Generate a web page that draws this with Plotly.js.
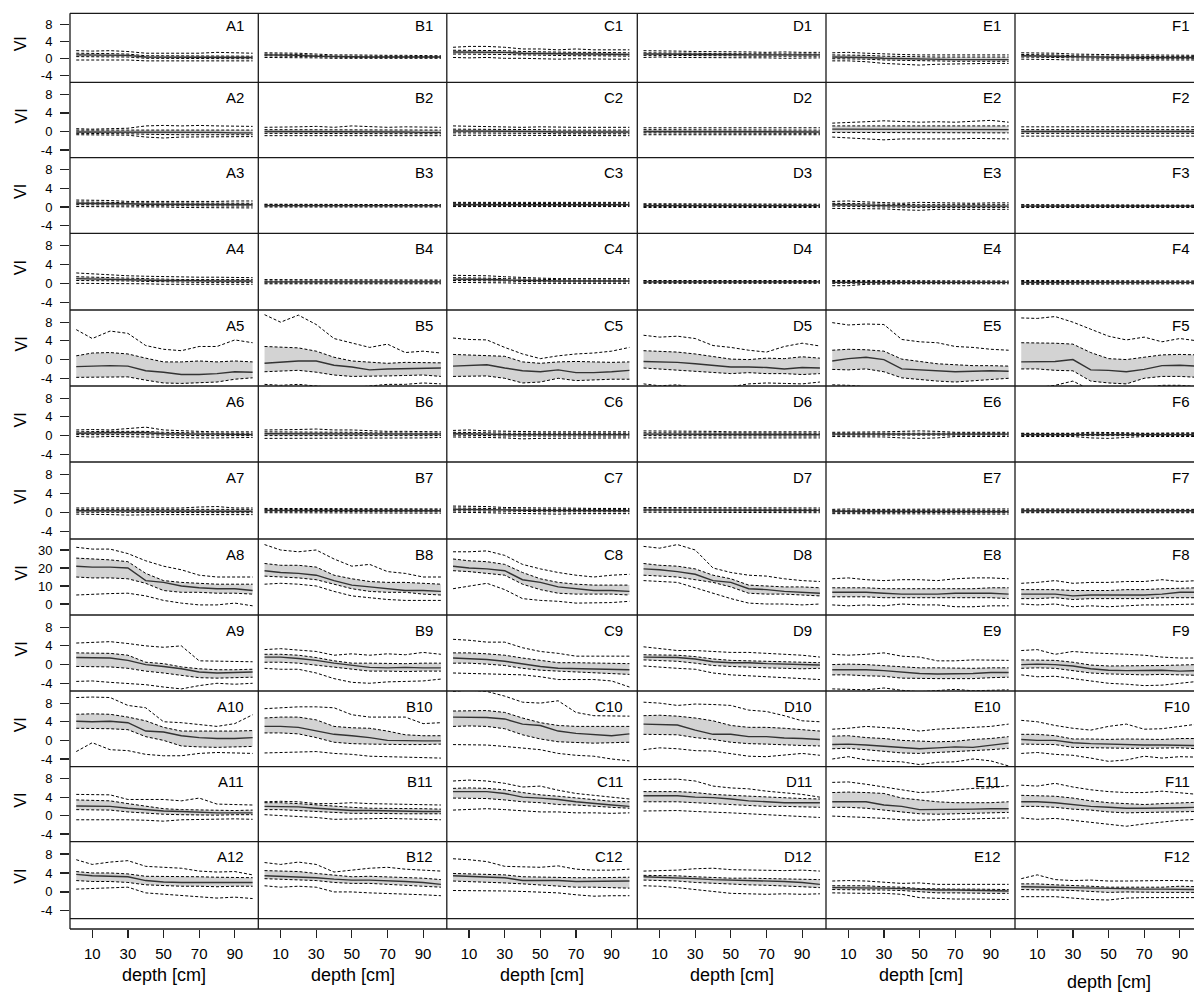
<!DOCTYPE html>
<html><head><meta charset="utf-8">
<script src="https://cdn.plot.ly/plotly-3.0.1.min.js"></script>
<style>html,body{margin:0;padding:0;background:#fff;}#chart{width:1194px;height:992px;}</style>
</head><body><div id="chart"></div>
<script>
// ---------------- DATA ----------------
var depth = [1,10,20,30,40,50,60,70,80,90,100];
var columns = ['A','B','C','D','E','F'];
var rowNumbers = [1,2,3,4,5,6,7,8,9,10,11,12];
var xTicks = [10,30,50,70,90];
var yTicksStd = [-4,0,4,8];
var yTicksRow8 = [0,10,20,30];
var xTitle = 'depth [cm]';
var yTitle = 'VI';

// Row 1
var A1_hi=[1.8,1.7,1.8,1.6,1.2,1.2,1.3,1.2,1.4,1.3,1.2], A1_q3=[1.2,1.2,1.1,1.0,0.6,0.6,0.6,0.6,0.6,0.5,0.5], A1_med=[0.8,0.8,0.8,0.7,0.3,0.3,0.3,0.3,0.3,0.3,0.2], A1_q1=[0.4,0.4,0.4,0.3,0.0,0.0,0.0,0.0,-0.1,-0.1,-0.1], A1_lo=[-0.4,-0.4,-0.5,-0.4,-0.6,-0.6,-0.6,-0.7,-0.6,-0.7,-0.6];
var B1_hi=[1.3,1.3,1.2,1.0,0.8,0.8,0.7,0.7,0.7,0.7,0.6], B1_q3=[1.0,1.0,0.9,0.7,0.5,0.5,0.5,0.5,0.4,0.4,0.4], B1_med=[0.8,0.8,0.7,0.5,0.4,0.4,0.3,0.3,0.3,0.3,0.3], B1_q1=[0.6,0.5,0.5,0.3,0.2,0.2,0.2,0.2,0.2,0.2,0.2], B1_lo=[0.2,0.2,0.2,0.1,0.0,0.0,0.0,0.0,0.0,0.0,0.0];
var C1_hi=[2.6,2.8,2.8,2.6,2.2,2.2,2.0,2.2,2.0,2.0,2.0], C1_q3=[1.9,1.9,1.9,1.8,1.6,1.5,1.5,1.4,1.4,1.3,1.3], C1_med=[1.5,1.5,1.5,1.4,1.2,1.1,1.1,1.0,1.0,0.9,0.9], C1_q1=[1.0,1.0,1.0,0.9,0.8,0.7,0.7,0.6,0.6,0.5,0.5], C1_lo=[0.2,0.1,0.2,0.0,0.0,-0.1,-0.2,-0.1,-0.2,-0.2,-0.2];
var D1_hi=[1.8,1.8,1.7,1.6,1.6,1.5,1.5,1.4,1.5,1.4,1.4], D1_q3=[1.3,1.3,1.2,1.2,1.1,1.1,1.0,1.0,1.0,1.0,1.0], D1_med=[1.0,1.0,1.0,0.9,0.9,0.9,0.8,0.8,0.8,0.8,0.8], D1_q1=[0.7,0.7,0.7,0.6,0.6,0.6,0.5,0.5,0.5,0.5,0.5], D1_lo=[0.2,0.3,0.2,0.2,0.1,0.1,0.1,0.1,0.0,0.1,0.1];
var E1_hi=[1.3,1.4,1.2,1.0,0.9,0.8,0.8,0.9,0.8,0.8,0.8], E1_q3=[0.8,0.8,0.7,0.5,0.4,0.3,0.3,0.3,0.3,0.3,0.3], E1_med=[0.3,0.3,0.2,0.0,-0.1,-0.2,-0.2,-0.3,-0.3,-0.3,-0.3], E1_q1=[-0.1,-0.1,-0.2,-0.4,-0.5,-0.6,-0.7,-0.7,-0.7,-0.7,-0.7], E1_lo=[-0.6,-0.6,-0.8,-1.2,-1.4,-1.6,-1.4,-1.3,-1.3,-1.2,-1.2];
var F1_hi=[1.3,1.3,1.2,1.0,0.9,0.8,0.8,0.8,0.8,0.7,0.7], F1_q3=[0.9,0.9,0.8,0.6,0.5,0.5,0.5,0.4,0.4,0.4,0.4], F1_med=[0.6,0.6,0.5,0.4,0.3,0.3,0.2,0.2,0.2,0.2,0.2], F1_q1=[0.3,0.3,0.2,0.1,0.0,0.0,0.0,-0.1,-0.1,-0.1,-0.1], F1_lo=[-0.2,-0.2,-0.3,-0.4,-0.4,-0.4,-0.4,-0.5,-0.4,-0.4,-0.4];
// Row 2
var A2_hi=[0.6,0.5,0.6,0.7,1.2,1.3,1.2,1.3,1.2,1.2,1.1], A2_q3=[0.3,0.3,0.3,0.3,0.4,0.4,0.4,0.3,0.3,0.3,0.3], A2_med=[-0.1,-0.1,-0.1,-0.1,-0.1,-0.2,-0.2,-0.2,-0.2,-0.3,-0.3], A2_q1=[-0.4,-0.4,-0.4,-0.5,-0.6,-0.7,-0.7,-0.7,-0.7,-0.7,-0.7], A2_lo=[-0.7,-0.7,-0.7,-0.8,-1.2,-1.4,-1.2,-1.2,-1.1,-1.1,-1.1];
var B2_hi=[0.9,0.9,1.0,1.1,0.9,1.2,1.0,0.9,1.0,0.9,0.9], B2_q3=[0.4,0.4,0.4,0.4,0.4,0.4,0.3,0.3,0.3,0.3,0.3], B2_med=[0.0,0.0,0.0,0.0,0.0,0.0,-0.1,-0.1,-0.1,-0.2,-0.2], B2_q1=[-0.4,-0.4,-0.4,-0.4,-0.4,-0.4,-0.5,-0.5,-0.5,-0.5,-0.5], B2_lo=[-0.9,-0.9,-0.8,-0.9,-0.9,-0.8,-0.9,-0.9,-0.9,-0.9,-0.9];
var C2_hi=[1.2,1.1,1.0,1.0,0.9,1.0,0.9,0.9,0.9,0.9,0.9], C2_q3=[0.5,0.5,0.4,0.4,0.4,0.4,0.3,0.3,0.3,0.3,0.3], C2_med=[0.1,0.1,0.0,0.0,0.0,0.0,-0.1,-0.1,-0.1,-0.1,-0.1], C2_q1=[-0.3,-0.3,-0.4,-0.4,-0.4,-0.4,-0.5,-0.5,-0.5,-0.5,-0.5], C2_lo=[-0.8,-0.8,-0.8,-0.8,-0.9,-0.9,-0.8,-0.9,-0.9,-0.9,-0.9];
var D2_hi=[0.8,0.8,0.8,0.7,0.8,0.7,0.8,0.7,0.8,0.8,0.8], D2_q3=[0.4,0.4,0.3,0.3,0.3,0.3,0.3,0.3,0.3,0.3,0.3], D2_med=[0.0,0.0,0.0,-0.1,-0.1,-0.1,-0.1,-0.1,-0.1,-0.1,-0.1], D2_q1=[-0.3,-0.3,-0.3,-0.4,-0.4,-0.4,-0.4,-0.4,-0.4,-0.4,-0.4], D2_lo=[-0.7,-0.7,-0.7,-0.8,-0.8,-0.8,-0.8,-0.8,-0.8,-0.7,-0.7];
var E2_hi=[1.8,1.9,2.1,2.3,2.2,2.0,2.1,2.0,2.2,2.4,2.0], E2_q3=[1.2,1.2,1.2,1.2,1.1,1.1,1.1,1.1,1.1,1.2,1.2], E2_med=[0.5,0.5,0.5,0.5,0.4,0.4,0.4,0.4,0.4,0.4,0.4], E2_q1=[-0.2,-0.2,-0.3,-0.3,-0.3,-0.3,-0.3,-0.3,-0.3,-0.3,-0.3], E2_lo=[-1.2,-1.4,-1.6,-1.8,-1.6,-1.6,-1.7,-1.6,-1.5,-1.6,-1.6];
var F2_hi=[1.0,1.0,1.0,1.0,1.0,1.0,1.1,1.0,1.0,1.0,1.0], F2_q3=[0.4,0.4,0.4,0.4,0.4,0.4,0.4,0.4,0.4,0.4,0.4], F2_med=[0.0,0.0,0.0,0.0,0.0,0.0,0.0,0.0,0.0,0.0,0.0], F2_q1=[-0.4,-0.4,-0.4,-0.4,-0.4,-0.4,-0.4,-0.4,-0.4,-0.4,-0.4], F2_lo=[-1.0,-1.0,-0.9,-1.0,-1.0,-1.0,-1.0,-1.0,-1.0,-1.0,-1.0];
// Row 3
var A3_hi=[1.5,1.5,1.4,1.2,1.2,1.2,1.1,1.2,1.2,1.3,1.3], A3_q3=[1.1,1.1,1.0,0.9,0.9,0.9,0.8,0.8,0.8,0.8,0.8], A3_med=[0.8,0.8,0.8,0.7,0.6,0.6,0.6,0.6,0.5,0.5,0.5], A3_q1=[0.5,0.5,0.5,0.4,0.3,0.3,0.3,0.3,0.2,0.2,0.2], A3_lo=[0.1,0.1,0.1,0.0,0.0,0.0,-0.1,-0.1,-0.2,-0.2,-0.2];
var B3_hi=[0.6,0.6,0.6,0.5,0.5,0.5,0.5,0.5,0.5,0.5,0.5], B3_q3=[0.5,0.5,0.4,0.4,0.4,0.4,0.4,0.4,0.4,0.4,0.4], B3_med=[0.3,0.3,0.3,0.3,0.3,0.3,0.3,0.3,0.3,0.3,0.3], B3_q1=[0.2,0.2,0.2,0.2,0.2,0.2,0.2,0.2,0.2,0.2,0.2], B3_lo=[0.0,0.0,0.0,0.0,0.1,0.0,0.0,0.0,0.0,0.0,0.0];
var C3_hi=[1.0,1.0,1.0,0.9,0.9,0.9,0.9,0.9,0.9,1.0,1.0], C3_q3=[0.8,0.8,0.7,0.7,0.7,0.7,0.7,0.7,0.7,0.7,0.7], C3_med=[0.5,0.5,0.5,0.5,0.5,0.5,0.5,0.5,0.5,0.5,0.5], C3_q1=[0.3,0.3,0.3,0.3,0.3,0.3,0.3,0.3,0.3,0.3,0.3], C3_lo=[0.1,0.1,0.1,0.1,0.1,0.1,0.1,0.1,0.1,0.1,0.1];
var D3_hi=[0.7,0.7,0.7,0.6,0.6,0.6,0.6,0.6,0.6,0.6,0.6], D3_q3=[0.5,0.5,0.5,0.4,0.4,0.4,0.4,0.4,0.4,0.4,0.4], D3_med=[0.3,0.3,0.3,0.3,0.3,0.3,0.3,0.3,0.3,0.3,0.3], D3_q1=[0.1,0.1,0.1,0.1,0.1,0.1,0.1,0.1,0.1,0.1,0.1], D3_lo=[-0.1,-0.1,-0.1,-0.1,-0.1,-0.1,-0.1,-0.1,-0.1,-0.1,-0.1];
var E3_hi=[1.2,1.3,1.1,1.0,0.8,1.0,0.9,0.8,0.8,0.9,0.9], E3_q3=[0.8,0.8,0.7,0.6,0.5,0.5,0.5,0.5,0.5,0.5,0.5], E3_med=[0.5,0.5,0.4,0.3,0.2,0.2,0.2,0.2,0.2,0.2,0.2], E3_q1=[0.2,0.2,0.1,0.0,-0.1,-0.1,-0.1,-0.1,-0.1,-0.1,-0.1], E3_lo=[-0.3,-0.3,-0.4,-0.4,-0.6,-0.7,-0.5,-0.5,-0.5,-0.5,-0.5];
var F3_hi=[0.5,0.5,0.5,0.5,0.5,0.5,0.4,0.4,0.4,0.4,0.4], F3_q3=[0.4,0.4,0.3,0.3,0.3,0.3,0.3,0.3,0.3,0.3,0.3], F3_med=[0.2,0.2,0.2,0.2,0.2,0.2,0.2,0.2,0.2,0.2,0.2], F3_q1=[0.1,0.1,0.1,0.1,0.1,0.1,0.1,0.1,0.1,0.1,0.1], F3_lo=[-0.1,-0.1,-0.1,-0.1,-0.1,-0.1,-0.1,-0.1,-0.1,-0.1,-0.1];
// Row 4
var A4_hi=[2.2,2.0,1.8,1.6,1.5,1.4,1.3,1.3,1.3,1.2,1.2], A4_q3=[1.4,1.3,1.2,1.1,1.0,0.9,0.8,0.8,0.8,0.8,0.8], A4_med=[1.0,0.9,0.9,0.8,0.7,0.6,0.6,0.5,0.5,0.5,0.5], A4_q1=[0.6,0.6,0.5,0.5,0.4,0.3,0.3,0.2,0.2,0.2,0.2], A4_lo=[0.0,0.0,0.0,-0.1,-0.1,-0.2,-0.2,-0.2,-0.2,-0.2,-0.2];
var B4_hi=[0.8,0.8,0.8,0.7,0.7,0.7,0.7,0.7,0.7,0.7,0.7], B4_q3=[0.5,0.5,0.5,0.5,0.5,0.5,0.5,0.5,0.5,0.5,0.5], B4_med=[0.3,0.3,0.3,0.3,0.3,0.3,0.3,0.3,0.3,0.3,0.3], B4_q1=[0.1,0.1,0.1,0.1,0.1,0.1,0.1,0.1,0.1,0.1,0.1], B4_lo=[-0.1,-0.1,-0.1,-0.1,-0.1,-0.1,-0.1,-0.1,-0.1,-0.1,-0.1];
var C4_hi=[1.7,1.7,1.6,1.4,1.2,1.1,1.0,1.0,1.0,1.0,1.0], C4_q3=[1.2,1.2,1.1,1.0,0.9,0.8,0.7,0.7,0.7,0.7,0.7], C4_med=[0.9,0.9,0.8,0.7,0.6,0.6,0.5,0.5,0.5,0.5,0.5], C4_q1=[0.6,0.6,0.5,0.5,0.4,0.3,0.3,0.3,0.3,0.3,0.3], C4_lo=[0.2,0.2,0.1,0.1,0.0,0.0,0.0,0.0,0.0,0.0,0.0];
var D4_hi=[0.6,0.6,0.6,0.6,0.6,0.6,0.6,0.6,0.6,0.6,0.6], D4_q3=[0.5,0.5,0.5,0.4,0.4,0.4,0.4,0.4,0.4,0.4,0.4], D4_med=[0.3,0.3,0.3,0.3,0.3,0.3,0.3,0.3,0.3,0.3,0.3], D4_q1=[0.2,0.2,0.2,0.2,0.2,0.2,0.2,0.2,0.2,0.2,0.2], D4_lo=[0.0,0.0,0.0,0.0,0.0,0.0,0.0,0.0,0.0,0.0,0.0];
var E4_hi=[0.6,0.6,0.6,0.6,0.5,0.5,0.5,0.5,0.5,0.5,0.5], E4_q3=[0.4,0.4,0.4,0.4,0.3,0.3,0.3,0.3,0.3,0.3,0.3], E4_med=[0.2,0.2,0.2,0.2,0.2,0.2,0.2,0.2,0.2,0.2,0.2], E4_q1=[0.0,0.0,0.0,0.0,0.1,0.1,0.1,0.1,0.1,0.1,0.1], E4_lo=[-0.5,-0.5,-0.2,-0.1,-0.1,-0.1,-0.1,-0.1,-0.1,-0.1,-0.1];
var F4_hi=[0.6,0.6,0.5,0.5,0.5,0.5,0.5,0.5,0.5,0.5,0.5], F4_q3=[0.4,0.4,0.3,0.3,0.3,0.3,0.3,0.3,0.3,0.3,0.3], F4_med=[0.2,0.2,0.2,0.2,0.2,0.2,0.2,0.2,0.2,0.2,0.2], F4_q1=[0.0,0.0,0.1,0.1,0.1,0.1,0.1,0.1,0.1,0.1,0.1], F4_lo=[-0.2,-0.2,-0.1,-0.1,-0.1,-0.1,-0.1,-0.1,-0.1,-0.1,-0.1];
// Row 5
var A5_hi=[6.4,4.5,6.1,5.6,3.0,2.2,1.9,2.8,2.8,4.2,3.6], A5_q3=[0.8,1.4,1.5,1.2,0.3,-0.5,-0.5,-0.3,-0.5,-0.3,-0.5], A5_med=[-1.5,-1.4,-1.3,-1.4,-2.4,-2.7,-3.2,-3.2,-3.0,-2.6,-2.7], A5_q1=[-3.8,-3.8,-3.7,-3.7,-4.4,-5.0,-5.1,-5.0,-4.8,-4.2,-3.9], A5_lo=[-6.5,-6.5,-6.8,-7.0,-7.5,-8.0,-8.0,-8.0,-8.0,-7.5,-7.5];
var B5_hi=[9.6,8.0,9.5,7.5,4.5,3.6,2.6,3.3,1.5,1.8,1.4], B5_q3=[2.8,2.7,2.5,1.8,0.5,-0.3,-0.6,-0.8,-0.6,-0.7,-0.7], B5_med=[-0.8,-0.5,-0.3,-0.3,-1.2,-1.6,-2.2,-2.0,-1.9,-1.8,-1.8], B5_q1=[-2.6,-2.4,-2.3,-2.7,-3.3,-3.6,-3.6,-3.5,-3.4,-3.3,-3.6], B5_lo=[-5.3,-5.5,-5.3,-5.6,-6.0,-6.0,-5.6,-5.3,-5.3,-5.0,-5.2];
var C5_hi=[4.6,4.3,4.2,2.6,1.2,0.2,0.8,1.2,1.4,1.8,2.6], C5_q3=[1.1,1.0,0.9,0.7,-0.5,-0.8,-0.5,-0.4,-0.5,-0.6,-0.5], C5_med=[-1.4,-1.3,-1.1,-1.8,-2.4,-2.6,-2.2,-2.8,-2.8,-2.6,-2.3], C5_q1=[-3.6,-3.6,-3.5,-4.0,-5.0,-4.8,-4.0,-4.5,-4.3,-4.2,-4.2], C5_lo=[-6.0,-6.2,-6.5,-6.8,-7.0,-7.0,-6.8,-6.5,-6.5,-6.4,-6.2];
var D5_hi=[5.2,4.8,5.0,4.5,3.0,2.6,2.0,1.6,2.8,3.5,2.9], D5_q3=[1.9,1.8,1.6,1.2,0.6,0.1,0.0,0.3,0.2,0.6,0.3], D5_med=[-0.4,-0.5,-0.6,-0.9,-1.2,-1.6,-1.6,-1.7,-2.0,-1.7,-1.8], D5_q1=[-1.8,-2.0,-2.3,-2.5,-2.8,-3.0,-2.8,-3.0,-3.0,-3.2,-3.0], D5_lo=[-5.2,-5.6,-5.4,-6.0,-6.0,-5.8,-5.2,-5.0,-5.1,-5.2,-4.8];
var E5_hi=[7.9,7.4,7.6,7.5,4.3,3.8,3.6,2.8,2.6,2.2,2.0], E5_q3=[2.0,2.2,2.1,1.8,0.1,-0.4,-0.9,-1.1,-1.3,-1.3,-1.4], E5_med=[-0.3,0.2,0.5,0.0,-2.0,-2.2,-2.4,-2.6,-2.5,-2.4,-2.5], E5_q1=[-2.1,-2.2,-2.0,-2.6,-3.9,-4.3,-4.6,-4.8,-4.5,-4.2,-4.0], E5_lo=[-5.4,-5.5,-5.8,-6.5,-7.0,-7.0,-7.0,-6.5,-6.5,-6.5,-6.5];
var F5_hi=[8.9,8.8,9.2,8.0,6.5,5.0,4.2,4.8,3.8,4.5,4.0], F5_q3=[3.6,3.6,3.5,3.3,1.5,0.2,0.0,0.5,1.0,1.1,1.0], F5_med=[-0.5,-0.5,-0.4,0.0,-2.2,-2.3,-2.6,-2.1,-1.3,-1.2,-1.4], F5_q1=[-2.0,-2.0,-2.3,-2.4,-4.6,-5.0,-5.2,-4.0,-3.6,-3.6,-3.8], F5_lo=[-6.0,-6.0,-5.5,-4.6,-6.5,-7.0,-7.0,-6.0,-5.5,-5.5,-5.8];
// Row 6
var A6_hi=[1.2,1.3,1.2,1.5,1.8,1.2,1.0,0.9,0.8,0.8,0.8], A6_q3=[0.8,0.9,0.9,0.9,0.9,0.7,0.6,0.6,0.5,0.5,0.5], A6_med=[0.5,0.6,0.6,0.6,0.6,0.4,0.3,0.3,0.3,0.2,0.2], A6_q1=[0.2,0.2,0.2,0.3,0.2,0.1,0.0,0.0,0.0,0.0,0.0], A6_lo=[-0.2,-0.3,-0.2,-0.2,-0.3,-0.4,-0.5,-0.5,-0.5,-0.5,-0.4];
var B6_hi=[1.2,1.2,1.3,1.4,1.2,1.2,1.0,0.9,0.9,0.9,0.8], B6_q3=[0.8,0.8,0.8,0.8,0.8,0.7,0.6,0.6,0.6,0.6,0.5], B6_med=[0.4,0.4,0.4,0.4,0.4,0.3,0.3,0.3,0.3,0.3,0.3], B6_q1=[0.0,0.0,0.0,0.0,0.0,0.0,0.0,0.0,0.0,0.0,0.0], B6_lo=[-0.6,-0.6,-0.6,-0.5,-0.6,-0.6,-0.5,-0.5,-0.5,-0.5,-0.4];
var C6_hi=[1.1,1.2,1.0,0.9,0.9,0.8,0.8,0.8,0.8,0.8,0.8], C6_q3=[0.7,0.7,0.6,0.5,0.5,0.5,0.5,0.5,0.5,0.5,0.5], C6_med=[0.4,0.4,0.3,0.2,0.2,0.2,0.2,0.2,0.2,0.2,0.2], C6_q1=[0.1,0.1,0.0,-0.1,-0.1,-0.1,-0.1,-0.1,-0.1,-0.1,-0.1], C6_lo=[-0.3,-0.3,-0.4,-0.5,-0.7,-0.6,-0.6,-0.5,-0.6,-0.5,-0.5];
var D6_hi=[1.0,1.0,0.9,0.9,0.9,0.8,0.8,0.8,0.8,0.8,0.8], D6_q3=[0.6,0.6,0.6,0.5,0.5,0.5,0.5,0.5,0.5,0.5,0.5], D6_med=[0.3,0.3,0.3,0.2,0.2,0.2,0.2,0.2,0.2,0.2,0.2], D6_q1=[0.0,0.0,0.0,-0.1,-0.1,-0.1,-0.1,-0.1,-0.1,-0.1,-0.1], D6_lo=[-0.5,-0.5,-0.5,-0.5,-0.5,-0.6,-0.6,-0.5,-0.5,-0.5,-0.5];
var E6_hi=[0.7,0.7,0.7,0.8,0.9,1.0,0.9,0.7,0.7,0.7,0.7], E6_q3=[0.5,0.5,0.5,0.5,0.6,0.6,0.6,0.5,0.5,0.5,0.5], E6_med=[0.3,0.3,0.3,0.3,0.3,0.3,0.3,0.3,0.3,0.3,0.3], E6_q1=[0.1,0.1,0.1,0.1,0.0,0.0,0.0,0.1,0.1,0.1,0.1], E6_lo=[-0.2,-0.2,-0.2,-0.3,-0.5,-0.6,-0.5,-0.2,-0.2,-0.2,-0.2];
var F6_hi=[0.5,0.5,0.5,0.5,0.7,0.7,0.6,0.5,0.5,0.5,0.6], F6_q3=[0.4,0.4,0.4,0.4,0.4,0.4,0.4,0.4,0.4,0.4,0.4], F6_med=[0.2,0.2,0.2,0.2,0.2,0.2,0.2,0.2,0.2,0.2,0.2], F6_q1=[0.0,0.0,0.0,0.0,0.0,0.0,0.0,0.0,0.0,0.0,0.0], F6_lo=[-0.2,-0.2,-0.2,-0.2,-0.5,-0.6,-0.4,-0.2,-0.2,-0.2,-0.2];
// Row 7
var A7_hi=[0.9,0.9,0.9,0.9,0.9,0.9,0.9,1.1,1.2,0.9,0.9], A7_q3=[0.6,0.6,0.6,0.6,0.6,0.6,0.6,0.6,0.6,0.6,0.6], A7_med=[0.3,0.3,0.3,0.3,0.3,0.3,0.3,0.3,0.3,0.2,0.2], A7_q1=[0.0,0.0,0.0,0.0,0.0,0.0,0.0,0.0,0.0,-0.1,-0.1], A7_lo=[-0.4,-0.4,-0.5,-0.6,-0.5,-0.5,-0.5,-0.5,-0.5,-0.5,-0.5];
var B7_hi=[0.8,0.8,0.8,0.8,0.8,0.8,0.8,0.7,0.7,0.7,0.7], B7_q3=[0.6,0.6,0.6,0.6,0.6,0.5,0.5,0.5,0.5,0.5,0.5], B7_med=[0.4,0.4,0.4,0.4,0.4,0.3,0.3,0.3,0.3,0.3,0.3], B7_q1=[0.2,0.2,0.2,0.2,0.2,0.1,0.1,0.1,0.1,0.1,0.1], B7_lo=[-0.1,-0.1,-0.1,-0.1,-0.1,-0.2,-0.2,-0.2,-0.2,-0.2,-0.2];
var C7_hi=[1.3,1.3,1.2,1.0,0.9,0.9,0.9,0.8,0.8,0.8,0.8], C7_q3=[0.9,0.9,0.8,0.7,0.6,0.6,0.6,0.6,0.6,0.6,0.6], C7_med=[0.6,0.6,0.5,0.5,0.4,0.4,0.4,0.4,0.3,0.3,0.3], C7_q1=[0.3,0.3,0.3,0.2,0.2,0.1,0.1,0.1,0.1,0.1,0.1], C7_lo=[0.0,0.0,-0.1,-0.2,-0.3,-0.4,-0.4,-0.3,-0.3,-0.3,-0.3];
var D7_hi=[1.0,1.0,0.9,0.9,0.9,0.9,0.9,0.9,0.9,0.9,0.9], D7_q3=[0.7,0.7,0.7,0.7,0.7,0.6,0.6,0.6,0.6,0.6,0.6], D7_med=[0.5,0.5,0.5,0.5,0.4,0.4,0.4,0.4,0.4,0.4,0.4], D7_q1=[0.3,0.3,0.3,0.3,0.2,0.2,0.2,0.2,0.2,0.2,0.2], D7_lo=[0.0,0.0,-0.1,-0.1,-0.1,-0.1,-0.1,-0.1,-0.1,-0.1,-0.1];
var E7_hi=[0.6,0.7,0.6,0.6,0.6,0.6,0.6,0.6,0.6,0.6,0.7], E7_q3=[0.4,0.4,0.4,0.4,0.4,0.4,0.4,0.4,0.4,0.4,0.4], E7_med=[0.2,0.2,0.2,0.2,0.1,0.1,0.1,0.1,0.1,0.1,0.1], E7_q1=[0.0,0.0,0.0,0.0,-0.1,-0.1,-0.1,-0.1,-0.1,-0.1,-0.1], E7_lo=[-0.3,-0.3,-0.3,-0.4,-0.4,-0.4,-0.4,-0.4,-0.4,-0.4,-0.4];
var F7_hi=[0.7,0.7,0.7,0.7,0.6,0.6,0.6,0.6,0.6,0.6,0.6], F7_q3=[0.5,0.5,0.5,0.5,0.4,0.4,0.4,0.4,0.4,0.4,0.4], F7_med=[0.3,0.3,0.3,0.3,0.3,0.3,0.3,0.3,0.3,0.3,0.3], F7_q1=[0.1,0.1,0.1,0.1,0.1,0.1,0.1,0.1,0.1,0.1,0.1], F7_lo=[-0.1,-0.1,-0.1,-0.1,-0.1,-0.1,-0.1,-0.1,-0.1,-0.1,-0.1];
// Row 8
var A8_hi=[31.5,30.5,30.5,28,24,21,19,16,15,15,15], A8_q3=[25.5,25,24.5,23.5,17,13,12,11.5,11,11,11], A8_med=[21,20.5,20.5,20,13,12,10,9,8.5,8.5,7.5], A8_q1=[15,14.5,14.5,14,11.5,7.5,6.5,6.5,6,6,5.5], A8_lo=[5,5.5,5.8,6,4.5,2,0.5,-0.5,-0.5,0.5,-1.0];
var B8_hi=[33,30,29,30,25,21,22,18,17,15,15], B8_q3=[22.5,21.5,21.5,20.5,16,14,12.5,12,12,11.5,11], B8_med=[18.5,17.5,17,16,13,10.5,9.5,8.5,7.5,7.5,7], B8_q1=[15.5,15,14.5,13.5,11,8.5,7,6.5,6.5,5.5,5], B8_lo=[11,11.5,11,10,7,4.5,3.5,2.5,2,2,2];
var C8_hi=[29,29,29.5,27,22,19.5,17.5,16,15,16,16.5], C8_q3=[25,24,23.5,22,17.5,14,12,11,10.5,10.5,10.5], C8_med=[21,20,19.5,18.5,13.5,12,9.5,8.5,7.5,7.5,7], C8_q1=[18.5,18,17,16,11,8,6,5.5,5.5,5.5,5], C8_lo=[8.5,10,11.5,8,3,2,1.5,0.5,0.5,0.8,1.5];
var D8_hi=[32,31,33,30,20,17.5,16,15.5,14,13,12.5], D8_q3=[22.5,21.5,21,19.5,16,14,10.5,10,9.5,9.5,9], D8_med=[19.5,19,18,16.5,13,12,8.5,8,7,6.5,6], D8_q1=[16,15.5,15,13.5,12,9.5,6,5.5,5.5,5,4.5], D8_lo=[13,12.5,12,9,6,3,0.5,0,0,-0.5,0];
var E8_hi=[14,14.5,13.5,13,13.5,13.5,13,14,14.5,14.5,14], E8_q3=[9,9,9,8.5,8.5,8.5,8.5,8.5,8.5,9,9], E8_med=[6.5,6.5,6.5,6,5.5,5.5,5.5,6,6,6,5.5], E8_q1=[4,4,4,3.5,3.5,3.5,3.5,3.5,3.5,3.5,3], E8_lo=[-0.5,-1,-0.5,-1,0,-0.5,-0.5,-1.5,-1.5,-1,-1];
var F8_hi=[11.5,12,13,11.5,12,12,12.5,12.5,13.5,12.5,13], F8_q3=[8,8,8,7.5,7.5,7.5,8,8,8.5,8.5,9], F8_med=[5.5,5.5,5.5,4.5,5,5,5,5,5.5,6.5,6.5], F8_q1=[3,3,3.5,2.5,3,3,3,3,3.5,3.5,3.5], F8_lo=[0,-0.5,0,-1.5,-1,-1.5,-1,-0.5,-0.5,0,0];
// Row 9
var A9_hi=[4.6,4.7,4.9,4.5,4.0,3.7,4.0,0.8,0.7,0.7,0.6], A9_q3=[2.5,2.5,2.4,2.0,0.5,0.2,-0.5,-0.9,-1.1,-1.1,-1.0], A9_med=[1.5,1.5,1.4,0.9,0.0,-0.4,-0.9,-1.6,-1.8,-1.7,-1.6], A9_q1=[-0.4,-0.4,-0.5,-0.8,-1.4,-1.8,-2.3,-2.8,-2.9,-2.8,-2.7], A9_lo=[-3.6,-3.5,-3.8,-4.0,-4.3,-4.8,-5.2,-4.5,-4.0,-4.2,-4.0];
var B9_hi=[3.2,3.4,3.1,2.8,2.0,2.3,2.0,2.3,2.1,2.6,2.2], B9_q3=[2.2,2.2,2.0,1.5,0.8,0.3,0.3,0.2,0.2,0.3,0.3], B9_med=[1.6,1.6,1.3,0.9,0.3,-0.1,-0.6,-0.7,-0.6,-0.7,-0.7], B9_q1=[0.5,0.5,0.3,-0.1,-0.6,-1.0,-1.4,-1.4,-1.5,-1.4,-1.4], B9_lo=[-0.8,-1.0,-1.0,-1.8,-3.0,-3.8,-4.0,-3.7,-3.6,-3.5,-3.1];
var C9_hi=[5.4,5.2,4.8,4.8,3.6,2.8,2.4,1.8,1.8,1.8,1.8], C9_q3=[2.5,2.5,2.3,2.0,1.4,0.9,0.4,0.4,0.3,0.3,0.2], C9_med=[1.4,1.3,1.1,0.7,0.1,-0.4,-0.8,-0.9,-1.0,-1.0,-1.1], C9_q1=[0.3,0.3,0.1,-0.2,-0.8,-1.2,-1.4,-1.6,-1.8,-2.0,-2.1], C9_lo=[-1.8,-1.9,-1.9,-2.0,-2.2,-2.6,-3.2,-3.2,-3.2,-3.5,-4.8];
var D9_hi=[3.8,3.4,3.0,3.0,2.8,2.6,2.6,2.4,2.2,2.0,1.6], D9_q3=[2.1,2.1,2.0,1.7,1.2,0.9,0.8,0.6,0.5,0.5,0.4], D9_med=[1.6,1.6,1.5,1.2,0.6,0.4,0.4,0.2,0.1,0.0,-0.1], D9_q1=[1.0,0.9,0.7,0.3,-0.2,-0.4,-0.6,-0.7,-0.8,-0.9,-0.8], D9_lo=[-0.3,-0.6,-0.8,-1.0,-1.8,-2.2,-2.4,-2.6,-2.8,-3.0,-3.2];
var E9_hi=[2.2,2.0,2.2,2.5,1.8,1.6,0.8,0.8,1.0,0.9,0.9], E9_q3=[0.0,0.1,0.0,-0.2,-0.5,-0.7,-0.7,-0.8,-0.8,-0.7,-0.7], E9_med=[-1.1,-1.1,-1.1,-1.3,-1.6,-1.9,-2.0,-2.0,-1.9,-1.7,-1.7], E9_q1=[-2.2,-2.2,-2.4,-2.5,-2.9,-3.0,-3.0,-3.0,-3.0,-2.8,-2.7], E9_lo=[-5.2,-5.3,-5.4,-5.0,-5.5,-5.8,-5.5,-5.3,-5.6,-5.5,-5.4];
var F9_hi=[3.0,3.2,2.2,2.8,2.5,2.4,2.2,2.0,1.6,1.4,1.4], F9_q3=[1.0,1.0,0.9,0.5,-0.1,-0.3,-0.3,-0.2,-0.2,-0.1,0.0], F9_med=[0.0,0.1,0.0,-0.3,-0.9,-1.2,-1.3,-1.3,-1.2,-1.4,-1.3], F9_q1=[-0.8,-0.7,-0.8,-1.3,-1.8,-2.0,-2.1,-2.2,-2.1,-2.2,-2.3], F9_lo=[-2.2,-2.6,-2.5,-3.0,-3.6,-4.0,-4.2,-4.5,-4.4,-4.0,-3.6];
// Row 10
var A10_hi=[9.2,9.3,9.2,7.5,7.0,4.0,3.8,3.4,3.0,3.6,5.5], A10_q3=[5.6,5.7,5.6,5.0,4.2,2.8,2.0,2.0,1.9,2.0,2.1], A10_med=[4.1,4.0,4.1,3.8,2.0,1.8,1.0,0.6,0.4,0.4,0.6], A10_q1=[2.6,2.6,2.5,2.3,0.8,0.0,-1.2,-1.4,-1.5,-1.4,-1.3], A10_lo=[-2.4,-0.5,-2.0,-2.2,-3.0,-3.3,-3.3,-2.8,-2.6,-2.7,-2.8];
var B10_hi=[6.8,7.0,7.2,7.2,7.0,5.5,5.0,5.0,5.0,3.6,3.8], B10_q3=[4.8,5.0,5.0,4.4,3.0,2.7,2.6,2.0,1.2,1.0,1.0], B10_med=[3.0,3.0,2.8,2.0,1.3,1.0,0.6,0.0,-0.1,-0.1,-0.1], B10_q1=[1.6,1.6,1.4,0.6,-0.4,-0.7,-0.8,-0.9,-0.9,-0.9,-0.8], B10_lo=[-2.7,-2.6,-2.5,-2.4,-2.8,-3.0,-3.4,-3.5,-3.6,-3.8,-3.8];
var C10_hi=[10.5,10.8,10.5,9.5,8.2,8.0,8.5,6.0,5.3,5.3,5.2], C10_q3=[6.3,6.4,6.4,6.0,4.8,3.8,3.2,3.0,3.0,3.0,3.0], C10_med=[5.0,5.0,4.9,4.6,3.5,3.2,2.0,1.5,1.2,1.0,1.4], C10_q1=[3.0,3.1,3.0,2.5,1.2,0.3,-0.3,-0.5,-0.6,-0.5,-0.4], C10_lo=[-0.9,-1.0,-1.0,-1.3,-1.6,-2.0,-2.8,-3.2,-3.4,-4.0,-4.4];
var D10_hi=[8.2,8.0,7.5,7.8,7.7,7.5,6.5,6.2,5.3,4.2,4.0], D10_q3=[5.3,5.4,5.2,4.8,4.2,3.2,2.8,2.8,2.6,2.3,2.0], D10_med=[3.5,3.4,3.3,2.2,1.3,1.3,0.8,0.8,0.5,0.4,0.2], D10_q1=[1.3,1.3,1.2,0.6,0.2,-0.4,-0.7,-0.8,-1.0,-1.1,-1.2], D10_lo=[-2.0,-1.6,-1.8,-2.2,-2.3,-2.8,-3.4,-3.5,-3.2,-2.8,-3.2];
var E10_hi=[2.4,2.6,3.0,2.8,2.5,2.0,2.4,2.6,2.8,3.0,3.5], E10_q3=[0.9,1.0,0.6,0.4,0.0,-0.2,-0.3,-0.2,0.2,0.4,0.8], E10_med=[-0.9,-0.8,-1.0,-1.3,-1.6,-1.8,-1.6,-1.4,-1.5,-1.0,-0.6], E10_q1=[-1.8,-1.7,-2.0,-2.4,-2.7,-2.8,-2.6,-2.5,-2.3,-2.0,-1.7], E10_lo=[-4.0,-3.5,-4.2,-4.5,-4.6,-5.2,-4.7,-4.6,-4.0,-4.4,-5.5];
var F10_hi=[4.3,4.0,3.2,2.6,2.2,3.0,3.5,2.4,2.5,3.0,3.5], F10_q3=[1.3,1.3,1.0,0.3,0.3,0.2,0.3,0.2,0.2,0.4,0.4], F10_med=[0.2,0.0,0.0,-0.5,-0.7,-0.8,-1.0,-1.0,-1.0,-1.0,-1.1], F10_q1=[-0.8,-0.8,-0.9,-1.5,-1.6,-1.7,-1.7,-1.7,-1.6,-1.6,-1.8], F10_lo=[-2.8,-2.6,-3.0,-3.2,-3.8,-4.5,-4.2,-3.4,-3.8,-3.5,-3.6];
// Row 11
var A11_hi=[4.6,4.5,4.5,3.5,3.5,3.5,3.2,3.8,2.5,2.4,2.3], A11_q3=[3.4,3.3,3.2,2.6,2.0,1.5,1.3,1.2,1.2,1.1,1.2], A11_med=[2.1,2.1,2.0,1.6,1.3,1.0,0.9,0.7,0.6,0.6,0.6], A11_q1=[1.3,1.3,1.2,0.8,0.5,0.3,0.2,0.1,0.1,0.2,0.2], A11_lo=[-0.9,-0.9,-0.8,-0.9,-1.0,-1.2,-0.9,-0.8,-0.8,-0.7,-0.8];
var B11_hi=[3.0,3.1,3.0,2.6,2.6,2.8,2.6,2.5,2.4,2.4,2.3], B11_q3=[2.8,2.8,2.6,2.3,2.0,1.8,1.6,1.6,1.5,1.5,1.4], B11_med=[2.0,2.0,1.9,1.6,1.3,1.1,1.1,1.0,1.0,0.9,0.9], B11_q1=[1.3,1.3,1.1,0.9,0.6,0.5,0.5,0.4,0.4,0.4,0.4], B11_lo=[0.2,0.0,-0.2,-0.4,-0.8,-0.7,-0.6,-0.6,-0.7,-0.8,-0.9];
var C11_hi=[7.5,7.7,7.5,7.0,6.2,6.4,5.5,4.8,4.4,4.0,3.6], C11_q3=[5.9,6.0,5.9,5.6,5.0,4.5,4.2,3.8,3.4,3.1,3.0], C11_med=[5.2,5.2,5.2,4.8,4.0,3.8,3.5,3.0,2.6,2.3,2.0], C11_q1=[3.8,3.8,3.7,3.4,3.0,2.8,2.4,2.3,2.0,1.8,1.6], C11_lo=[1.2,1.4,1.5,1.3,1.0,0.8,0.8,0.6,0.6,0.5,0.6];
var D11_hi=[7.8,7.9,7.9,7.5,6.4,6.0,5.8,5.3,5.0,4.6,4.0], D11_q3=[5.2,5.2,5.2,5.0,4.6,4.4,4.2,4.0,3.8,3.7,3.6], D11_med=[4.3,4.3,4.3,4.0,3.9,3.6,3.2,3.0,2.8,2.8,2.8], D11_q1=[3.0,3.0,3.0,2.8,2.6,2.5,2.2,2.0,2.0,1.9,1.8], D11_lo=[1.0,1.0,1.1,0.9,0.8,0.6,0.4,0.2,0.0,-0.2,-0.4];
var E11_hi=[7.2,7.3,6.8,6.2,5.5,5.0,5.2,5.6,5.9,6.0,6.5], E11_q3=[5.0,5.1,5.0,4.8,3.8,3.4,3.0,2.8,2.8,2.8,3.0], E11_med=[3.0,3.0,3.0,2.3,2.0,1.3,1.3,1.3,1.4,1.5,1.5], E11_q1=[1.8,1.8,1.6,1.2,0.7,0.4,0.3,0.4,0.5,0.6,0.7], E11_lo=[-0.1,-0.2,-0.4,-0.6,-0.9,-1.0,-0.9,-0.8,-0.7,-0.6,-0.5];
var F11_hi=[6.6,6.4,7.0,6.2,5.6,5.2,5.0,5.0,5.3,5.0,4.6], F11_q3=[4.4,4.3,4.2,3.8,3.2,2.8,2.6,2.4,2.6,2.8,2.9], F11_med=[3.0,3.0,2.8,2.4,2.0,1.8,1.6,1.6,1.6,1.7,1.8], F11_q1=[2.0,2.0,1.8,1.4,1.2,0.8,0.6,0.7,0.8,0.9,0.9], F11_lo=[-0.5,-0.8,-0.6,-1.0,-1.4,-1.8,-2.3,-1.8,-1.4,-1.0,-0.8];
// Row 12
var A12_hi=[6.8,5.8,6.3,6.6,5.4,5.2,5.0,4.4,4.2,4.3,3.6], A12_q3=[4.3,4.0,4.0,3.8,3.3,3.3,3.2,3.2,3.1,3.1,3.0], A12_med=[3.7,3.4,3.3,3.2,2.4,2.1,2.0,2.0,2.0,1.9,2.0], A12_q1=[2.4,2.2,2.2,2.0,1.5,1.3,1.2,1.2,1.1,1.2,1.2], A12_lo=[0.6,0.7,0.8,1.0,-0.2,-0.5,-0.8,-1.0,-1.3,-1.1,-1.4];
var B12_hi=[6.2,5.8,6.3,5.8,4.2,4.6,5.0,5.2,4.8,4.6,4.4], B12_q3=[4.5,4.4,4.3,3.9,3.5,3.2,3.3,3.2,3.0,2.9,2.6], B12_med=[3.4,3.3,3.2,3.0,2.7,2.5,2.5,2.4,2.2,2.0,1.6], B12_q1=[2.8,2.7,2.6,2.4,2.0,1.8,1.8,1.6,1.5,1.3,1.0], B12_lo=[1.3,1.0,1.2,1.0,0.0,0.0,-0.2,-0.3,-0.4,-0.6,-0.8];
var C12_hi=[7.0,6.8,6.4,5.4,5.3,5.2,5.5,4.8,4.6,4.6,4.8], C12_q3=[3.9,3.8,3.8,3.6,3.2,3.1,3.1,3.0,3.0,3.1,3.1], C12_med=[3.4,3.3,3.2,3.0,2.4,2.4,2.4,2.2,2.2,2.3,2.3], C12_q1=[2.3,2.2,2.1,1.9,1.7,1.5,1.2,1.0,1.0,0.9,0.8], C12_lo=[0.3,0.3,0.2,0.2,0.1,0.0,-0.2,-0.6,-0.9,-0.8,-0.8];
var D12_hi=[4.4,4.5,4.6,4.9,5.0,4.7,4.6,4.6,4.5,4.6,4.4], D12_q3=[3.5,3.5,3.4,3.2,3.0,2.9,2.9,2.8,2.8,2.7,2.6], D12_med=[3.2,3.1,3.0,2.8,2.6,2.5,2.5,2.3,2.2,2.0,1.6], D12_q1=[2.5,2.4,2.3,2.0,1.8,1.6,1.5,1.4,1.3,1.1,0.9], D12_lo=[1.3,1.2,0.9,0.5,0.0,-0.3,-0.4,-0.5,-0.4,-0.5,-0.4];
var E12_hi=[2.3,2.4,2.3,2.0,1.8,1.9,1.6,1.6,1.6,1.7,1.6], E12_q3=[1.3,1.3,1.3,1.1,1.0,0.7,0.6,0.6,0.6,0.5,0.5], E12_med=[0.9,0.9,0.9,0.8,0.7,0.5,0.4,0.4,0.3,0.3,0.2], E12_q1=[0.5,0.5,0.5,0.4,0.3,0.0,-0.2,-0.2,-0.3,-0.3,-0.3], E12_lo=[-0.2,-0.3,-0.3,-0.3,-0.5,-1.2,-1.4,-1.5,-1.5,-1.5,-1.6];
var F12_hi=[2.8,3.6,2.6,2.4,2.5,2.3,2.3,2.4,2.4,2.4,2.3], F12_q3=[1.7,1.7,1.5,1.4,1.2,1.0,1.0,1.0,1.0,1.2,1.1], F12_med=[1.1,1.1,1.0,0.9,0.8,0.7,0.7,0.6,0.6,0.6,0.5], F12_q1=[0.5,0.5,0.4,0.3,0.1,-0.1,0.0,-0.1,-0.1,-0.1,-0.1], F12_lo=[-1.0,-1.0,-1.0,-1.3,-1.6,-1.7,-1.3,-1.2,-1.2,-1.3,-1.2];

// ---------------- LAYOUT ----------------
var W = 1194, H = 992;
var colLeft  = [70, 258.3, 446.8, 637.3, 826, 1015];
var colRight = [258.3, 446.8, 637.3, 826, 1015, 1203.5];
var rowTop = [13.3, 82.3, 157.7, 233.3, 310, 386, 462, 539, 615, 691, 766.7, 841.7];
var rowBot = [82.3, 157.7, 233.3, 310, 386, 462, 539, 615, 691, 766.7, 841.7, 918.7];
var axisLineY = 929;
var pxPerCm = 1.7817;
var FONT = 'Liberation Sans, Arial, sans-serif';
function fx(p){ return p / W; }
function fy(p){ return 1 - p / H; }
function series(c, r, n){ return window[c + r + '_' + n]; }

var traces = [];
var layout = {
  width: W, height: H, margin: {l:0, r:0, t:0, b:0, pad:0},
  showlegend: false, paper_bgcolor: '#ffffff', plot_bgcolor: 'rgba(0,0,0,0)',
  font: {family: FONT, color: '#000'},
  shapes: [], annotations: []
};

var k = 0;
rowNumbers.forEach(function(r, ri){
  columns.forEach(function(c, ci){
    k++;
    var sfx = k === 1 ? '' : String(k);
    var xr = 'x' + sfx, yr = 'y' + sfx;
    var right = Math.min(colRight[ci], W);
    var xRange = [-2.5, -2.5 + (right - colLeft[ci]) / pxPerCm];
    var yRange = r === 8 ? [-6.1, 36.1] : [-5.65, 10.6];
    var xa = {domain: [fx(colLeft[ci]), fx(right)], range: xRange, anchor: yr,
      showgrid: false, zeroline: false, showline: false, showticklabels: false, ticks: '', fixedrange: true};
    if (r === 12) {
      xa.anchor = 'free'; xa.position = fy(axisLineY);
      xa.ticks = 'outside'; xa.ticklen = 8; xa.tickwidth = 1.2; xa.tickcolor = '#222';
      xa.tickmode = 'array'; xa.tickvals = xTicks; xa.ticktext = xTicks.map(String);
      xa.showticklabels = true; xa.tickfont = {family: FONT, size: 15, color: '#000'};
      xa.ticklabelstandoff = 3;
    }
    var ya = {domain: [fy(rowBot[ri]), fy(rowTop[ri])], range: yRange, anchor: xr,
      showgrid: false, zeroline: false, showline: false, showticklabels: false, ticks: '', fixedrange: true};
    if (ci === 0) {
      ya.ticks = 'outside'; ya.ticklen = 9; ya.tickwidth = 1.2; ya.tickcolor = '#222';
      ya.tickmode = 'array'; ya.tickvals = (r === 8 ? yTicksRow8 : yTicksStd);
      ya.ticktext = ya.tickvals.map(String);
      ya.showticklabels = true; ya.tickfont = {family: FONT, size: 13, color: '#000'};
      ya.ticklabelstandoff = 5;
    }
    layout['xaxis' + sfx] = xa;
    layout['yaxis' + sfx] = ya;

    var hi = series(c, r, 'hi'), q3 = series(c, r, 'q3'), med = series(c, r, 'med'),
        q1 = series(c, r, 'q1'), lo = series(c, r, 'lo');
    // grey inter-quartile band
    traces.push({x: depth.concat(depth.slice().reverse()), y: q3.concat(q1.slice().reverse()),
      xaxis: xr, yaxis: yr, mode: 'lines', fill: 'toself', fillcolor: '#d3d3d3',
      line: {width: 0, color: 'rgba(0,0,0,0)'}, hoverinfo: 'skip'});
    [hi, q3, q1, lo].forEach(function(s){
      traces.push({x: depth, y: s, xaxis: xr, yaxis: yr, mode: 'lines',
        line: {color: '#000', width: 1, dash: '3px,2px'}, hoverinfo: 'skip'});
    });
    traces.push({x: depth, y: med, xaxis: xr, yaxis: yr, mode: 'lines',
      line: {color: '#333', width: 1.4}, hoverinfo: 'skip'});

    // panel label
    layout.annotations.push({xref: 'paper', yref: 'paper', x: fx(Math.min(colRight[ci], W + 10) - 12),
      y: fy(rowTop[ri] + (ri === 0 ? 12 : 15)), xanchor: 'right', yanchor: 'middle',
      text: c + r, showarrow: false, font: {family: FONT, size: 15, color: '#000'}});
  });
  // y title
  layout.annotations.push({xref: 'paper', yref: 'paper', x: fx(20.5),
    y: fy((rowTop[ri] + rowBot[ri]) / 2 - 4), xanchor: 'center', yanchor: 'middle',
    text: yTitle, textangle: -90, showarrow: false, font: {family: FONT, size: 16, color: '#000'}});
});

// x titles
columns.forEach(function(c, ci){
  var cx = (colLeft[ci] + colRight[ci]) / 2;
  layout.annotations.push({xref: 'paper', yref: 'paper', x: fx(cx), y: fy(ci === 5 ? 982 : 975),
    xanchor: 'center', yanchor: 'middle', text: xTitle, showarrow: false,
    font: {family: FONT, size: 18, color: '#000'}});
});

// frame lines
var lineStyle = {color: '#1a1a1a', width: 1.3};
rowTop.concat([rowBot[rowBot.length - 1], axisLineY]).forEach(function(yp){
  layout.shapes.push({type: 'line', xref: 'paper', yref: 'paper', x0: fx(colLeft[0]), x1: 1,
    y0: fy(yp), y1: fy(yp), line: lineStyle});
});
colLeft.forEach(function(xp){
  layout.shapes.push({type: 'line', xref: 'paper', yref: 'paper', x0: fx(xp), x1: fx(xp),
    y0: fy(rowTop[0]), y1: fy(axisLineY), line: lineStyle});
});

Plotly.newPlot('chart', traces, layout, {staticPlot: true, displayModeBar: false});
</script>
</body></html>
